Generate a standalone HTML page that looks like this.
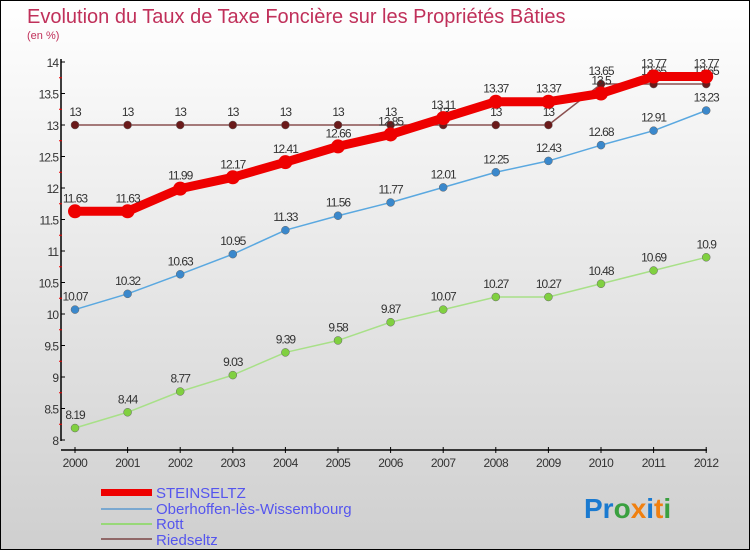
<!DOCTYPE html>
<html><head><meta charset="utf-8"><style>
body{margin:0}
#c{width:748px;height:548px;border:1px solid #000;background:linear-gradient(#fff,#cfcfcf);position:relative;font-family:"Liberation Sans",sans-serif;overflow:hidden}
</style></head><body>
<div id="c">
<svg id="s" width="748" height="548">
<text x="26" y="22" font-size="20" fill="#c0305a">Evolution du Taux de Taxe Foncière sur les Propriétés Bâties</text>
<text x="26" y="38" font-size="11" fill="#c0305a">(en %)</text>
<g id="ax"></g><g id="marks"></g>
<g>
<rect x="100" y="488" width="51" height="7" fill="#e00"/>
<text x="155" y="497" font-size="15" fill="#5555ee">STEINSELTZ</text>
<rect x="100" y="507" width="51" height="2" fill="#7aa8d0"/>
<text x="155" y="513" font-size="15" fill="#5555ee">Oberhoffen-lès-Wissembourg</text>
<rect x="100" y="522" width="51" height="2" fill="#98d878"/>
<text x="155" y="528" font-size="15" fill="#5555ee">Rott</text>
<rect x="100" y="537" width="51" height="2" fill="#906868"/>
<text x="155" y="544" font-size="15" fill="#5555ee">Riedseltz</text>
</g>
<text x="583" y="517" font-size="28" font-weight="bold"><tspan fill="#1a7ad0">Pr</tspan><tspan fill="#3aa040">o</tspan><tspan fill="#f08010">x</tspan><tspan fill="#1a7ad0">i</tspan><tspan fill="#f08010">t</tspan><tspan fill="#3aa040">i</tspan></text>
</svg></div>
<script>
const years=[2000,2001,2002,2003,2004,2005,2006,2007,2008,2009,2010,2011,2012];
const yTicks=[8,8.5,9,9.5,10,10.5,11,11.5,12,12.5,13,13.5,14];
const steinseltz=[11.63,11.63,11.99,12.17,12.41,12.66,12.85,13.11,13.37,13.37,13.5,13.77,13.77];
const oberhoffen=[10.07,10.32,10.63,10.95,11.33,11.56,11.77,12.01,12.25,12.43,12.68,12.91,13.23];
const rott=[8.19,8.44,8.77,9.03,9.39,9.58,9.87,10.07,10.27,10.27,10.48,10.69,10.9];
const riedseltz=[13,13,13,13,13,13,13,13,13,13,13.65,13.65,13.65];
const NS="http://www.w3.org/2000/svg";
const xs=i=>74+i*52.6, ys=v=>439-(v-8)*63;
function mk(p,t,a){const e=document.createElementNS(NS,t);for(const k in a)e.setAttribute(k,a[k]);p.appendChild(e);return e;}
const ax=document.getElementById('ax'),mg=document.getElementById('marks');
let e=mk(ax,'line',{x1:60,y1:58,x2:60,y2:440,stroke:'#000','stroke-width':1.5});

e=mk(ax,'line',{x1:60,y1:449,x2:706,y2:449,stroke:'#000','stroke-width':1.5});

yTicks.forEach((v,i)=>{const y=ys(v);mk(ax,'line',{x1:60,y1:y,x2:64,y2:y,stroke:'#000'});
 if(i<yTicks.length-1)mk(ax,'line',{x1:58,y1:ys(v+0.25),x2:61,y2:ys(v+0.25),stroke:'#e00'});
 const t=mk(ax,'text',{x:57,y:y+5,'font-size':12,fill:'#333','text-anchor':'end','letter-spacing':'-1'});t.textContent=v;
 });
years.forEach((yr,i)=>{const x=xs(i);mk(ax,'line',{x1:x,y1:446,x2:x,y2:452,stroke:'#000'});
 const t=mk(ax,'text',{x:x,y:466,'font-size':12,fill:'#333','text-anchor':'middle','letter-spacing':'-0.5'});t.textContent=yr;
 });
function series(name,d,col,w,r,dot,lab){const g=mk(mg,'g',{});
 const l=mk(g,'polyline',{points:d.map((v,i)=>xs(i)+','+ys(v)).join(' '),fill:'none',stroke:col,'stroke-width':w,'stroke-linejoin':'round'});
 
 d.forEach((v,i)=>{const c=mk(g,'circle',{cx:xs(i),cy:ys(v),r:r,fill:dot,stroke:dot==='#e00'?'none':'#666','stroke-width':0.5});
  
  const t=mk(g,'text',{x:xs(i),y:ys(v)-9,'font-size':12,fill:'#333','text-anchor':'middle','letter-spacing':'-1'});t.textContent=v;
  });}
series('riedseltz',riedseltz,'#8a5050',1.5,4,'#6a1a1a');
series('rott',rott,'#a8e088',1.5,4,'#80d040');
series('oberhoffen',oberhoffen,'#5aa8e0',1.5,4,'#3a88cc');
series('steinseltz',steinseltz,'#e00',9,7,'#e00');
</script></body></html>
